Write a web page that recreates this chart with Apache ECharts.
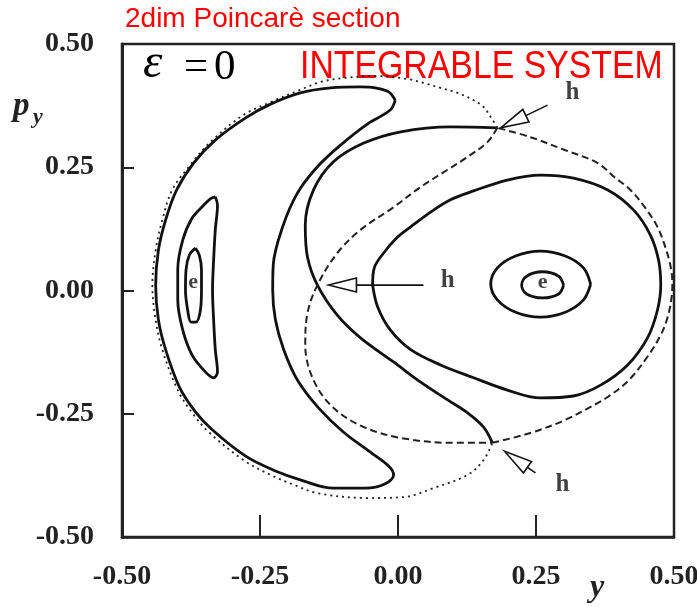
<!DOCTYPE html>
<html>
<head>
<meta charset="utf-8">
<script src="https://cdn.jsdelivr.net/npm/echarts@6/dist/echarts.min.js"></script>
<style>
html, body { margin: 0; padding: 0; background: #fff; }
#chart { width: 697px; height: 607px; }
</style>
</head>
<body>
<div id="chart"></div>
<script>
// tick values of both axes
var ticks = [-0.5, -0.25, 0, 0.25, 0.5];

// energy boundary (dotted), left part: upper h -> around the left -> lower h
var boundaryLeft = [
  [0.180, 0.330], [0.168, 0.352], [0.155, 0.372], [0.137, 0.386], [0.108, 0.401], [0.077, 0.411],
  [0.046, 0.421], [0.017, 0.429], [-0.041, 0.435], [-0.099, 0.431], [-0.140, 0.423], [-0.177, 0.407],
  [-0.231, 0.382], [-0.280, 0.356], [-0.340, 0.301], [-0.376, 0.255], [-0.409, 0.204], [-0.427, 0.143],
  [-0.439, 0.082], [-0.445, 0.011], [-0.439, -0.060], [-0.427, -0.120], [-0.399, -0.202], [-0.373, -0.248],
  [-0.343, -0.287], [-0.280, -0.344], [-0.231, -0.374], [-0.189, -0.394], [-0.146, -0.411], [-0.055, -0.421],
  [0.010, -0.419], [0.064, -0.401], [0.126, -0.374], [0.155, -0.344], [0.171, -0.309]
];
// energy boundary, right part: lower h -> around the right -> upper h
var boundaryRight = [
  [0.171, -0.309], [0.240, -0.289], [0.302, -0.263], [0.349, -0.236], [0.380, -0.216], [0.418, -0.182],
  [0.454, -0.131], [0.476, -0.090], [0.488, -0.056], [0.495, -0.019], [0.497, 0.011], [0.495, 0.042],
  [0.486, 0.082], [0.470, 0.129], [0.447, 0.169], [0.421, 0.204], [0.392, 0.230], [0.361, 0.259],
  [0.302, 0.285], [0.240, 0.311], [0.180, 0.330]
];

// big left crescent
var crescent = [
  [-0.005, 0.386], [-0.017, 0.403], [-0.041, 0.411], [-0.068, 0.413], [-0.122, 0.411], [-0.177, 0.401],
  [-0.231, 0.378], [-0.276, 0.350], [-0.331, 0.305], [-0.370, 0.259], [-0.401, 0.204], [-0.421, 0.143],
  [-0.434, 0.082], [-0.439, 0.011], [-0.434, -0.060], [-0.421, -0.120], [-0.396, -0.196], [-0.367, -0.246],
  [-0.336, -0.283], [-0.276, -0.336], [-0.222, -0.366], [-0.177, -0.384], [-0.117, -0.401], [-0.059, -0.401],
  [-0.023, -0.392], [-0.008, -0.374], [-0.017, -0.356], [-0.050, -0.328], [-0.099, -0.287], [-0.144, -0.238],
  [-0.182, -0.182], [-0.207, -0.120], [-0.222, -0.060], [-0.227, 0.001], [-0.226, 0.052], [-0.209, 0.129],
  [-0.182, 0.198], [-0.146, 0.251], [-0.104, 0.295], [-0.055, 0.338], [-0.014, 0.366], [-0.005, 0.386]
];

// orbits round the left elliptic point
var leftLoop = [
  [-0.331, 0.190], [-0.327, 0.173], [-0.331, 0.123], [-0.334, 0.062], [-0.336, 0.001], [-0.334, -0.060],
  [-0.331, -0.120], [-0.327, -0.165], [-0.334, -0.177], [-0.349, -0.165], [-0.373, -0.131], [-0.390, -0.080],
  [-0.399, -0.019], [-0.399, 0.042], [-0.390, 0.102], [-0.373, 0.147], [-0.352, 0.173], [-0.340, 0.186],
  [-0.331, 0.190]
];
var leftSmall = [
  [-0.367, 0.086], [-0.360, 0.072], [-0.356, 0.042], [-0.356, 0.001], [-0.358, -0.040], [-0.366, -0.064],
  [-0.375, -0.064], [-0.381, -0.040], [-0.385, 0.001], [-0.384, 0.042], [-0.378, 0.072], [-0.367, 0.086]
];

// separatrix branches through the three hyperbolic points
var sepSolid = [
  [0.180, 0.330], [0.095, 0.332], [0.005, 0.322], [-0.062, 0.299], [-0.117, 0.261], [-0.153, 0.204],
  [-0.168, 0.133], [-0.164, 0.068], [-0.146, 0.011], [-0.110, -0.050], [-0.068, -0.096], [-0.008, -0.145],
  [0.041, -0.186], [0.090, -0.222], [0.126, -0.248], [0.155, -0.277], [0.171, -0.309]
];
var sepDashed = [
  [0.180, 0.330], [0.162, 0.301], [0.126, 0.271], [0.090, 0.245], [0.041, 0.210], [-0.008, 0.169],
  [-0.068, 0.123], [-0.110, 0.076], [-0.146, 0.011], [-0.164, -0.046], [-0.168, -0.111], [-0.153, -0.182],
  [-0.117, -0.238], [-0.062, -0.277], [0.005, -0.299], [0.095, -0.309], [0.171, -0.309]
];

// big right lobe and the orbits round the right elliptic point
var rightLobe = [
  [-0.046, 0.011], [-0.043, 0.046], [-0.026, 0.076], [-0.003, 0.106], [0.023, 0.129], [0.059, 0.159],
  [0.095, 0.184], [0.137, 0.202], [0.198, 0.224], [0.258, 0.234], [0.318, 0.228], [0.380, 0.204],
  [0.427, 0.163], [0.457, 0.113], [0.472, 0.062], [0.476, 0.011], [0.470, -0.040], [0.452, -0.096],
  [0.416, -0.151], [0.367, -0.192], [0.318, -0.214], [0.258, -0.218], [0.198, -0.202], [0.137, -0.177],
  [0.077, -0.151], [0.023, -0.120], [-0.014, -0.080], [-0.037, -0.033], [-0.046, 0.011]
];
var rightOuter = [
  [0.349, 0.013], [0.336, 0.046], [0.303, 0.070], [0.258, 0.080], [0.213, 0.070], [0.180, 0.046],
  [0.168, 0.013], [0.180, -0.019], [0.213, -0.044], [0.258, -0.054], [0.303, -0.044], [0.336, -0.019],
  [0.349, 0.013]
];
var rightInner = [
  [0.300, 0.011], [0.291, 0.029], [0.262, 0.038], [0.233, 0.029], [0.224, 0.011], [0.233, -0.007],
  [0.262, -0.015], [0.291, -0.007], [0.300, 0.011]
];

// arrows: tail y, tail py, tip y, tip py
var arrows = [
  [0.271, 0.376, 0.186, 0.330],
  [0.046, 0.011, -0.126, 0.011],
  [0.249, -0.370, 0.193, -0.326]
];
// point labels
var hLabels = [[0.316, 0.402], [0.090, 0.021], [0.298, -0.394]];
var eLabels = [[0.262, 0.016], [-0.371, 0.016]];

var chart = echarts.init(document.getElementById('chart'));

function curve(data, lineStyle) {
  return {
    type: 'line', data: data, symbol: 'none', showSymbol: false,
    smooth: 0.35, silent: true, lineStyle: lineStyle
  };
}
var solid = { color: '#111', width: 2.8 };
var dotted = { color: '#222', width: 1.8, type: [2, 4] };
var dashed = { color: '#222', width: 2, type: [7, 4] };

function renderArrow(params, api) {
  var tail = api.coord([api.value(0), api.value(1)]);
  var tip = api.coord([api.value(2), api.value(3)]);
  var dx = tip[0] - tail[0], dy = tip[1] - tail[1];
  var len = Math.sqrt(dx * dx + dy * dy);
  var ux = dx / len, uy = dy / len;
  var headLen = 28, half = 7;
  var bx = tip[0] - ux * headLen, by = tip[1] - uy * headLen;
  return {
    type: 'group',
    children: [
      { type: 'line', shape: { x1: tail[0], y1: tail[1], x2: bx, y2: by },
        style: { stroke: '#111', lineWidth: 1.6 } },
      { type: 'polygon',
        shape: { points: [[tip[0], tip[1]], [bx - uy * half, by + ux * half], [bx + uy * half, by - ux * half]] },
        style: { fill: '#fff', stroke: '#111', lineWidth: 1.6 } }
    ]
  };
}

var labelFont = { fontFamily: 'Liberation Serif', fontWeight: 'bold', fontSize: 28, color: '#222' };

var option = {
  animation: false,
  grid: {
    left: 122, right: 23, top: 44, bottom: 70,
    show: true, borderColor: '#222', borderWidth: 2.5,
    outerBoundsMode: 'none'
  },
  xAxis: {
    type: 'value', min: ticks[0], max: ticks[ticks.length - 1], interval: 0.25,
    axisLine: { show: true, onZero: false, lineStyle: { color: '#222', width: 2.5 } },
    axisTick: { show: true, inside: true, length: 22, lineStyle: { color: '#222', width: 2 } },
    splitLine: { show: false },
    axisLabel: Object.assign({ margin: 26, showMinLabel: true, showMaxLabel: true,
      formatter: function (v) { return v.toFixed(2); } }, labelFont)
  },
  yAxis: {
    type: 'value', min: ticks[0], max: ticks[ticks.length - 1], interval: 0.25,
    axisLine: { show: true, onZero: false, lineStyle: { color: '#222', width: 3 } },
    axisTick: { show: true, inside: true, length: 12, lineStyle: { color: '#222', width: 2 } },
    splitLine: { show: false },
    axisLabel: Object.assign({ margin: 28, showMinLabel: true, showMaxLabel: true,
      formatter: function (v) { return v.toFixed(2); } }, labelFont)
  },
  series: [
    curve(boundaryLeft, dotted),
    curve(boundaryRight, dashed),
    curve(crescent, solid),
    curve(leftLoop, solid),
    curve(leftSmall, solid),
    curve(sepSolid, solid),
    curve(sepDashed, dashed),
    curve(rightLobe, solid),
    curve(rightOuter, solid),
    curve(rightInner, solid),
    {
      type: 'custom', data: arrows, renderItem: renderArrow, silent: true, z: 5
    },
    {
      type: 'scatter', data: hLabels, symbolSize: 1, itemStyle: { color: 'rgba(0,0,0,0)' }, silent: true,
      label: { show: true, position: 'inside', formatter: 'h',
        fontFamily: 'Liberation Serif', fontWeight: 'bold', fontSize: 25, color: '#111' }
    },
    {
      type: 'scatter', data: eLabels, symbolSize: 1, itemStyle: { color: 'rgba(0,0,0,0)' }, silent: true,
      label: { show: true, position: 'inside', formatter: 'e',
        fontFamily: 'Liberation Serif', fontWeight: 'bold', fontSize: 22, color: '#111' }
    }
  ],
  graphic: [
    { type: 'text', x: 125, y: 5,
      style: { text: '2dim Poincarè section', fill: '#ff0000', font: '28px "Liberation Sans"', align: 'left', verticalAlign: 'top' } },
    { type: 'text', x: 143, y: 40,
      style: { text: 'ε', fill: '#000', font: 'italic 49px "Liberation Serif"', align: 'left', verticalAlign: 'top' } },
    { type: 'text', x: 184, y: 46,
      style: { text: '=', fill: '#000', font: '43px "Liberation Serif"', align: 'left', verticalAlign: 'top' } },
    { type: 'text', x: 214, y: 46,
      style: { text: '0', fill: '#000', font: '43px "Liberation Serif"', align: 'left', verticalAlign: 'top' } },
    { type: 'text', x: 300, y: 49, scaleX: 0.89,
      style: { text: 'INTEGRABLE SYSTEM', fill: '#ff0000', font: '38px "Liberation Sans"', align: 'left', verticalAlign: 'top' } },
    { type: 'text', x: 13, y: 90,
      style: { text: 'p', fill: '#222', font: 'italic bold 33px "Liberation Serif"', align: 'left', verticalAlign: 'top' } },
    { type: 'text', x: 33, y: 106,
      style: { text: 'y', fill: '#222', font: 'italic bold 22px "Liberation Serif"', align: 'left', verticalAlign: 'top' } },
    { type: 'text', x: 590, y: 572,
      style: { text: 'y', fill: '#222', font: 'italic bold 32px "Liberation Serif"', align: 'left', verticalAlign: 'top' } }
  ]
};
chart.setOption(option);
</script>
</body>
</html>
